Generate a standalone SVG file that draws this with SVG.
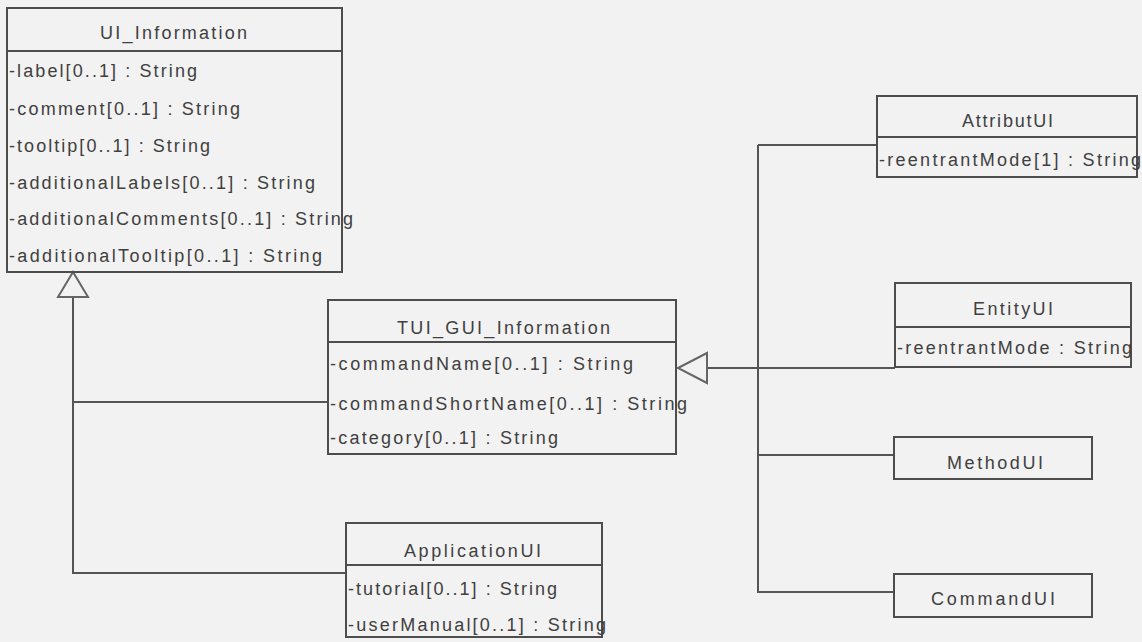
<svg xmlns="http://www.w3.org/2000/svg" width="1142" height="642" viewBox="0 0 1142 642">
<style>
.bg{fill:#f2f2f2}
.box{fill:none;stroke:#4d4d4d;stroke-width:2}
.ln{fill:none;stroke:#555;stroke-width:2}
.tri{fill:#f2f2f2;stroke:#666;stroke-width:2}
text{font-family:"Liberation Sans",Arial,sans-serif;font-size:18px;fill:#404040}
</style>
<rect class="bg" x="0" y="0" width="1142" height="642"/>
<g id="connectors">
<path class="ln" d="M73,297 V573 H346 M73,402 H328"/>
<polygon class="tri" points="73,272 58,297 88,297"/>
<path class="ln" d="M758,145 H877 M758,145 V592 H894 M707,368 H895 M758,455 H894"/>
<polygon class="tri" points="678,368 707,353 707,383"/>
</g>
<g id="UI_Information">
<rect class="box" x="7" y="8" width="335" height="264"/>
<line class="box" x1="7" y1="51" x2="342" y2="51"/>
<text x="100" y="39" textLength="147" lengthAdjust="spacing">UI_Information</text>
<text x="9" y="77" textLength="188" lengthAdjust="spacing">-label[0..1] : String</text>
<text x="9" y="115" textLength="231" lengthAdjust="spacing">-comment[0..1] : String</text>
<text x="9" y="152" textLength="201" lengthAdjust="spacing">-tooltip[0..1] : String</text>
<text x="9" y="189" textLength="306" lengthAdjust="spacing">-additionalLabels[0..1] : String</text>
<text x="9" y="225" textLength="344" lengthAdjust="spacing">-additionalComments[0..1] : String</text>
<text x="9" y="262" textLength="313" lengthAdjust="spacing">-additionalTooltip[0..1] : String</text>
</g>
<g id="TUI_GUI_Information">
<rect class="box" x="328" y="300" width="348" height="154"/>
<line class="box" x1="328" y1="342" x2="676" y2="342"/>
<text x="397" y="334" textLength="213" lengthAdjust="spacing">TUI_GUI_Information</text>
<text x="330" y="370" textLength="303" lengthAdjust="spacing">-commandName[0..1] : String</text>
<text x="330" y="410" textLength="357" lengthAdjust="spacing">-commandShortName[0..1] : String</text>
<text x="330" y="444" textLength="228" lengthAdjust="spacing">-category[0..1] : String</text>
</g>
<g id="ApplicationUI">
<rect class="box" x="346" y="523" width="256" height="114"/>
<line class="box" x1="346" y1="565" x2="602" y2="565"/>
<text x="404" y="557" textLength="137" lengthAdjust="spacing">ApplicationUI</text>
<text x="348" y="595" textLength="209" lengthAdjust="spacing">-tutorial[0..1] : String</text>
<text x="348" y="631" textLength="258" lengthAdjust="spacing">-userManual[0..1] : String</text>
</g>
<g id="AttributUI">
<rect class="box" x="877" y="96" width="260" height="81"/>
<line class="box" x1="877" y1="137" x2="1137" y2="137"/>
<text x="962" y="127" textLength="91" lengthAdjust="spacing">AttributUI</text>
<text x="879" y="166" textLength="262" lengthAdjust="spacing">-reentrantMode[1] : String</text>
</g>
<g id="EntityUI">
<rect class="box" x="895" y="283" width="236" height="84"/>
<line class="box" x1="895" y1="327" x2="1131" y2="327"/>
<text x="973" y="315" textLength="80" lengthAdjust="spacing">EntityUI</text>
<text x="897" y="354" textLength="235" lengthAdjust="spacing">-reentrantMode : String</text>
</g>
<g id="MethodUI">
<rect class="box" x="894" y="437" width="198" height="42"/>
<text x="947" y="469" textLength="96" lengthAdjust="spacing">MethodUI</text>
</g>
<g id="CommandUI">
<rect class="box" x="894" y="574" width="198" height="43"/>
<text x="931" y="605" textLength="124" lengthAdjust="spacing">CommandUI</text>
</g>
</svg>
